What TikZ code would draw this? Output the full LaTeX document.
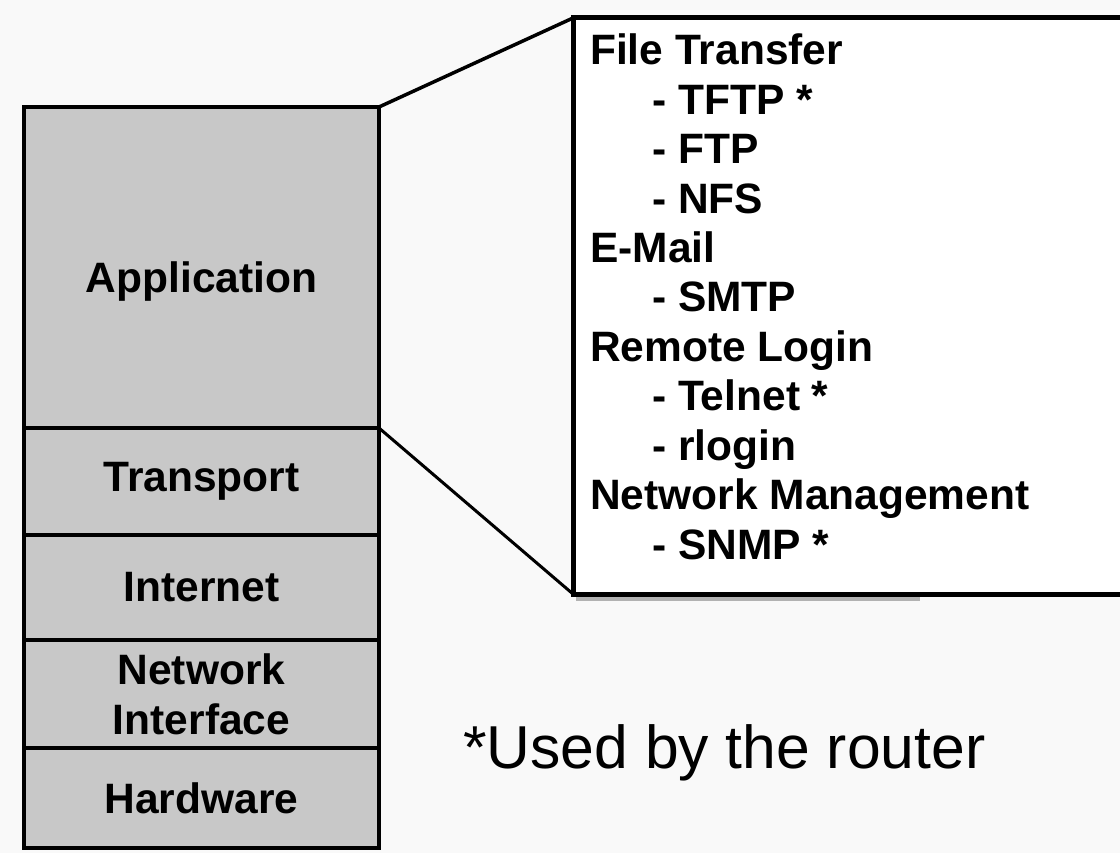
\documentclass[tikz,border=0pt]{standalone}
\usepackage{fontspec}
\setmainfont{Liberation Sans}
\usetikzlibrary{positioning}

\begin{document}
\begin{tikzpicture}[
    x=1pt, y=-1pt,
    node distance=0pt,
    every node/.style={font=\fontsize{42.5}{50}\selectfont\bfseries},
    layer/.style={draw, line width=3.5pt, fill=gray!43, minimum width=355pt,
      inner sep=0pt, outer sep=0pt, align=center},
    item/.style={anchor=base west, inner sep=0pt}
  ]
    \useasboundingbox (0,0) rectangle (1120,853);
    \fill[gray!5] (0,0) rectangle (1120,853);

    % Schichten
    \node[layer, minimum height=321pt, anchor=north west] (app) at (24,107) {};
    \node[layer, minimum height=107pt, below=of app] (trans) {Transport};
    \node[layer, minimum height=105pt, below=of trans] (inet) {Internet};
    \node[layer, minimum height=108pt, below=of inet] (netif) {Network\\Interface};
    \node[layer, minimum height=100pt, below=of netif] (hw) {Hardware};
    \node[yshift=-14pt] (applab) at (app.center) {Application};

    % Kasten rechts
    \coordinate (boxnw) at (573,18);
    \coordinate (boxsw) at (573,594);
    \fill[white] (1125,18) -- (boxnw) -- (boxsw) -- (1125,594) -- cycle;
    \draw[line width=4pt, gray!60] ([xshift=3pt, yshift=-5pt]boxsw) -- (920,599);
    \draw[line width=5pt] (1125,18) -- (boxnw) -- (boxsw) -- (1125,594);

    % Verbindungslinien
    \draw[line width=3.5pt] (app.north east) -- (boxnw);
    \draw[line width=3pt] (app.south east) -- (boxsw);

    % Protokolle
    \foreach \txt/\xx [count=\i from 0] in {
        File Transfer/590, - TFTP */652, - FTP/652, - NFS/652,
        E-Mail/590, - SMTP/652,
        Remote Login/590, - Telnet */652, - rlogin/652,
        Network Management/590, - SNMP */652}
      \node[item] (item\i) at (\xx, 65+49.4*\i) {\txt};

    % Fussnote
    \node[item, font=\fontsize{60.6}{70}\selectfont] (note) at (463,768) {*Used by the router};
\end{tikzpicture}
\end{document}
